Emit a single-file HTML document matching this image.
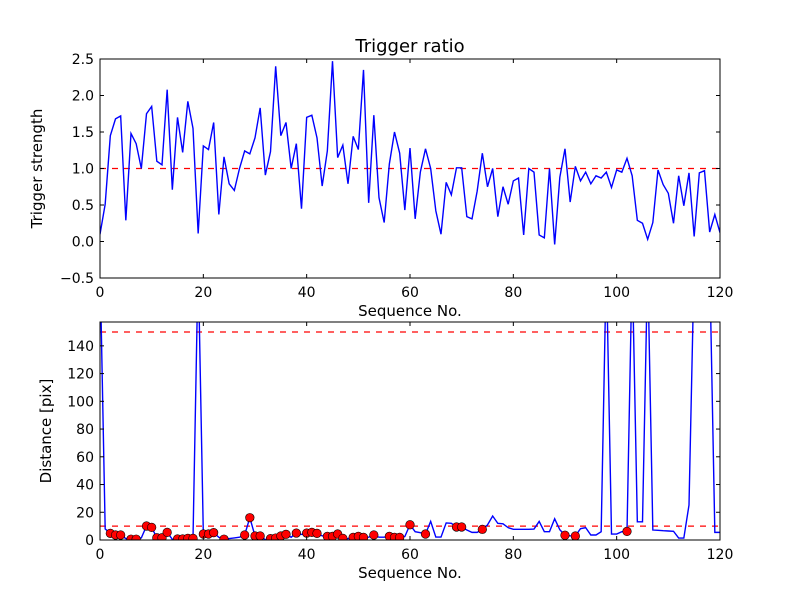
<!DOCTYPE html>
<html><head><meta charset="utf-8"><style>
body{margin:0;background:#fff;}
svg text{font-family:"DejaVu Sans","Liberation Sans",sans-serif;fill:#000;}
</style></head><body>
<svg id="chart" width="800" height="600" xmlns="http://www.w3.org/2000/svg">
<rect width="800" height="600" fill="#fff"/>
</svg>
<script>
const ratioValues=[0.10,0.51,1.45,1.68,1.72,0.29,1.48,1.34,1.00,1.75,1.85,1.10,1.05,2.08,0.71,1.70,1.22,1.92,1.55,0.11,1.31,1.26,1.63,0.37,1.16,0.79,0.70,1.00,1.24,1.20,1.42,1.83,0.91,1.23,2.40,1.45,1.63,1.00,1.34,0.45,1.70,1.73,1.42,0.76,1.24,2.47,1.15,1.32,0.79,1.44,1.26,2.35,0.53,1.73,0.60,0.26,1.06,1.50,1.21,0.43,1.28,0.31,0.95,1.27,1.00,0.42,0.10,0.81,0.64,1.01,1.01,0.34,0.31,0.69,1.21,0.75,1.00,0.34,0.75,0.51,0.83,0.87,0.09,1.00,0.95,0.09,0.05,1.00,-0.04,0.88,1.27,0.54,1.03,0.83,0.95,0.79,0.90,0.87,0.95,0.74,0.98,0.95,1.14,0.90,0.29,0.25,0.03,0.26,0.98,0.78,0.66,0.25,0.90,0.49,0.94,0.07,0.94,0.97,0.13,0.37,0.12];
const distValues=[200,8,4.8,3.6,3.6,1.0,0.6,0.6,1.5,10.1,9.1,1.6,1.6,5.5,0.5,0.7,0.7,1.2,1.2,200,4.3,4.3,5.3,2,0.6,1,1.5,2,3.6,16.1,2.9,2.9,0.2,1.0,1.4,2.9,4.1,2,5.0,4,5.0,5.5,4.8,3,2.6,2.6,4.3,1.2,1,1.9,2.6,1.9,2,3.6,2,2,2.6,1.9,1.9,2.5,11.0,6.0,5.3,4.3,13.4,2.1,2.1,12.3,12.0,9.4,9.4,7.2,5.5,5.5,7.7,10.9,17.3,12.0,11.7,8.9,7.7,7.7,7.7,7.7,7.9,13.4,6.0,6.0,15.3,7.4,3.4,3,2.9,8.2,8.9,3.6,3.6,6.0,200,4.3,4.3,6.0,6.2,200,13.1,13.1,200,7.2,7.0,6.7,6.5,6.3,1.4,1.4,25.2,200,200,200,200,5.5,5.5];
const markerIdx=[2,3,4,6,7,9,10,11,12,13,15,16,17,18,20,21,22,24,28,29,30,31,33,34,35,36,38,40,41,42,44,45,46,47,49,50,51,53,56,57,58,60,63,69,70,74,90,92,102];
const xTicks=[0,20,40,60,80,100,120];
const topYTicks=[-0.5,0.0,0.5,1.0,1.5,2.0,2.5];
const topYLabels=["\u22120.5","0.0","0.5","1.0","1.5","2.0","2.5"];
const botYTicks=[0,20,40,60,80,100,120,140];
const topThreshold=[1.0];
const botThresholds=[10,150];

const NS="http://www.w3.org/2000/svg";
const svg=document.getElementById('chart');
function mk(tag,attrs,parent){const e=document.createElementNS(NS,tag);for(const k in attrs)e.setAttribute(k,attrs[k]);(parent||svg).appendChild(e);return e;}
const L=100,R=720;
const xs=v=>L+(v-0)/120*(R-L);
function drawPanel(cfg){
  const {top,bot,ymin,ymax,name}=cfg;
  const ys=v=>bot-(v-ymin)/(ymax-ymin)*(bot-top);
  const clipId='clip-'+name;
  const cp=mk('clipPath',{id:clipId});
  mk('rect',{x:L,y:top,width:R-L,height:bot-top},cp);
  const g=mk('g',{'clip-path':'url(#'+clipId+')'});
  
  
  cfg.thresholds.forEach(t=>{
    const l=mk('line',{x1:L,x2:R,y1:ys(t),y2:ys(t),stroke:'#f00','stroke-width':1.2,'stroke-dasharray':'6,6'},g);
    
    
  });
  const pts=cfg.values.map((v,i)=>xs(i).toFixed(2)+','+ys(v).toFixed(2)).join(' ');
  const pl=mk('polyline',{points:pts,fill:'none',stroke:'#00f','stroke-width':1.4},g);
  
  
  (cfg.markers||[]).forEach(i=>{
    const c=mk('circle',{cx:xs(i),cy:ys(cfg.values[i]),r:4.3,fill:'#f00',stroke:'#000','stroke-width':0.6},g);
    
    
  });
  const fr=mk('rect',{x:L,y:top,width:R-L,height:bot-top,fill:'none',stroke:'#000','stroke-width':1});
  
  
  xTicks.forEach(t=>{
    const x=xs(t);
    mk('line',{x1:x,x2:x,y1:bot,y2:bot-4,stroke:'#000'});
    mk('line',{x1:x,x2:x,y1:top,y2:top+4,stroke:'#000'});
    const tx=mk('text',{x:x,y:bot+19,'text-anchor':'middle','font-size':14});
    tx.textContent=t;
    
    
  });
  cfg.yTicks.forEach((t,i)=>{
    const y=ys(t);
    mk('line',{x1:L,x2:L+4,y1:y,y2:y,stroke:'#000'});
    mk('line',{x1:R,x2:R-4,y1:y,y2:y,stroke:'#000'});
    const tx=mk('text',{x:L-6,y:y+5,'text-anchor':'end','font-size':14});
    tx.textContent=cfg.yLabels?cfg.yLabels[i]:t;
    
    
  });
  const xl=mk('text',{x:(L+R)/2,y:bot+38,'text-anchor':'middle','font-size':15});
  xl.textContent='Sequence No.';
  
  
  const yl=mk('text',{x:0,y:0,'text-anchor':'middle','font-size':15,transform:'translate('+cfg.ylx+','+((top+bot)/2)+') rotate(-90)'});
  yl.textContent=cfg.ylabel;
  
  
}
drawPanel({name:'trigger',top:59,bot:278,ymin:-0.5,ymax:2.5,values:ratioValues,thresholds:topThreshold,yTicks:topYTicks,yLabels:topYLabels,ylabel:'Trigger strength',ylx:42});
drawPanel({name:'distance',top:322,bot:540,ymin:0,ymax:157.2,values:distValues,thresholds:botThresholds,markers:markerIdx,yTicks:botYTicks,ylabel:'Distance [pix]',ylx:51});
const title=mk('text',{x:410,y:52,'text-anchor':'middle','font-size':18});
title.textContent='Trigger ratio';


</script>
</body></html>
